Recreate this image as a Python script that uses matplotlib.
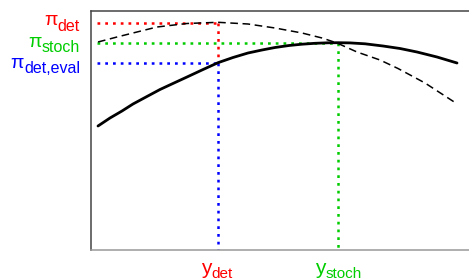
import matplotlib
matplotlib.use("Agg")
import matplotlib.pyplot as plt

# curves (x, y in plot units)
x_eval = [7, 19, 31, 42, 55, 69, 83, 96, 111, 127, 142, 157, 171, 184,
          198, 211, 224, 237, 247, 259, 274, 292, 309, 326, 346, 366]
y_eval = [123.5, 131.5, 138.5, 145.5, 152.5, 160.0, 166.5, 172.5, 179.5, 186.8,
          192.0, 196.5, 199.5, 202.0, 204.0, 205.3, 206.2, 206.7, 206.8, 206.6,
          205.7, 203.5, 201.0, 197.5, 192.5, 186.5]

x_det = [7, 26, 42, 66, 96, 127, 157, 184, 211, 231, 246, 266, 289, 307, 321, 334, 354, 364]
y_det = [207.5, 212.5, 216.5, 222.5, 226.0, 227.2, 225.5, 221.5, 216.5, 211.5,
         206.5, 197.5, 189.5, 181.0, 173.5, 166.5, 153.5, 147.0]

# reference values
x_start = 6
y_det_opt = 127
y_stoch_opt = 246.5
pi_det = 227
pi_stoch = 206.8
pi_det_eval = 186.8

RED = "#FF0000"
GREEN = "#00CD00"
BLUE = "#0000FF"

plt.rcParams["font.family"] = ["Liberation Sans", "DejaVu Sans"]

W, H = 469, 280
fig = plt.figure(figsize=(W / 100, H / 100), dpi=100)
ax = fig.add_axes([91 / W, 1 - 249.5 / H, 1 - 91 / W, (249.5 - 11) / H])
ax.set_xlim(0, 378)
ax.set_ylim(0, 238.5)
ax.set_xticks([])
ax.set_yticks([])
ax.spines["right"].set_visible(False)
ax.spines["left"].set_color("#444444")
ax.spines["top"].set_color("#444444")
ax.spines["bottom"].set_color("#999999")
for s in ax.spines.values():
    s.set_linewidth(1.1)

dot = (0, (1.1, 2.0))
lw_dot = 1.8
ax.plot([x_start, y_det_opt], [pi_det, pi_det], color=RED, lw=lw_dot, ls=dot)
ax.plot([y_det_opt, y_det_opt], [pi_det, pi_det_eval], color=RED, lw=lw_dot, ls=dot)
ax.plot([x_start, y_stoch_opt], [pi_stoch, pi_stoch], color=GREEN, lw=lw_dot, ls=dot)
ax.plot([y_stoch_opt, y_stoch_opt], [pi_stoch, 0], color=GREEN, lw=lw_dot, ls=dot)
ax.plot([x_start, y_det_opt], [pi_det_eval, pi_det_eval], color=BLUE, lw=lw_dot, ls=dot)
ax.plot([y_det_opt, y_det_opt], [pi_det_eval, 0], color=BLUE, lw=lw_dot, ls=dot)

ax.plot(x_det, y_det, color="black", lw=1.1, ls=(0, (5, 3)))
ax.plot(x_eval, y_eval, color="black", lw=2.0, solid_capstyle="round", solid_joinstyle="round")

renderer = fig.canvas.get_renderer()


def fx(px):
    return px / W


def fy(py):
    return 1 - py / H


def label(main, sub, x, base_main, base_sub, color, align, size_main, size_sub):
    t_main = fig.text(0, fy(base_main), main, color=color, fontsize=size_main, va="baseline", ha="left")
    t_sub = fig.text(0, fy(base_sub), sub, color=color, fontsize=size_sub, va="baseline", ha="left")
    w_main = t_main.get_window_extent(renderer).width
    w_sub = t_sub.get_window_extent(renderer).width
    total = w_main + w_sub
    if align == "right":
        left = x - total
    else:
        left = x - total / 2
    t_main.set_x(fx(left))
    t_sub.set_x(fx(left + w_main))


label("\u03c0", "det", 80, 25, 31, RED, "right", 14, 11.5)
label("\u03c0", "stoch", 80, 46.7, 51.8, GREEN, "right", 14, 11.5)
label("\u03c0", "det,eval", 80, 68.3, 73.0, BLUE, "right", 14, 11.5)
label("y", "det", 217, 273.5, 278.5, RED, "center", 15, 11)
label("y", "stoch", 338, 273.5, 278.5, GREEN, "center", 15, 11)

fig.savefig("out.png", dpi=100)
